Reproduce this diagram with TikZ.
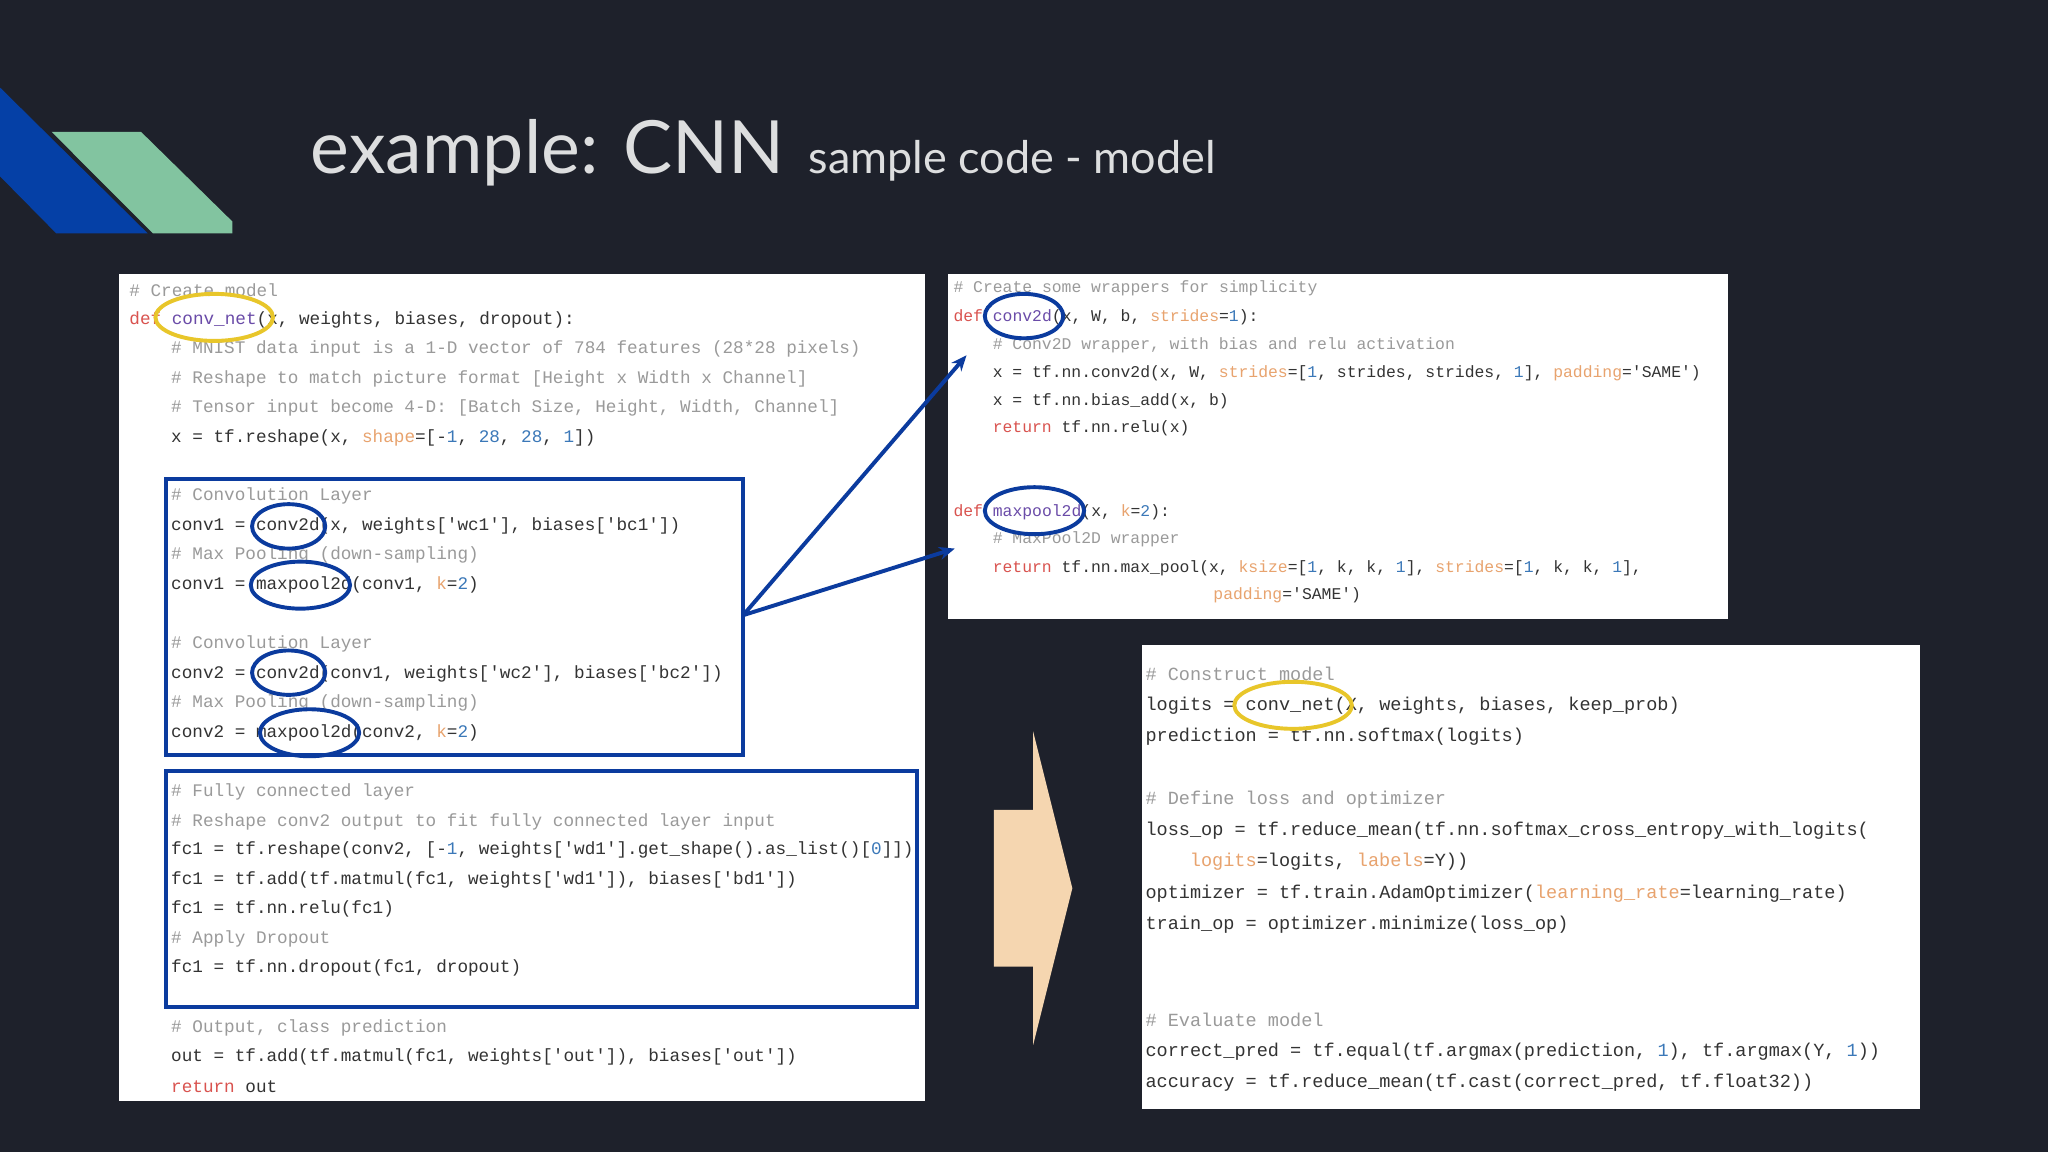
\documentclass[tikz,border=0pt]{standalone}
\usepackage{fontspec}
\usetikzlibrary{arrows.meta}
\setmainfont{Lato}
\newfontfamily\codefont{Liberation Mono}
\newfontfamily\titlefont{Lato}
\definecolor{bg}{HTML}{1E212B}
\definecolor{cmt}{HTML}{9A9A9A}
\definecolor{kwc}{HTML}{D9534F}
\definecolor{kac}{HTML}{E8A36E}
\definecolor{nmc}{HTML}{3B78B8}
\definecolor{fnc}{HTML}{6A4BA8}
\definecolor{txt}{HTML}{333333}
\definecolor{boxblue}{HTML}{0B3B9E}
\definecolor{deco1}{HTML}{0540A6}
\definecolor{deco2}{HTML}{82C4A0}
\definecolor{ylw}{HTML}{E8C62A}
\definecolor{peach}{HTML}{F5D6B0}
\newcommand{\cm}[1]{\textcolor{cmt}{#1}}
\newcommand{\kw}[1]{\textcolor{kwc}{#1}}
\newcommand{\ka}[1]{\textcolor{kac}{#1}}
\newcommand{\nm}[1]{\textcolor{nmc}{#1}}
\newcommand{\fnm}[1]{\textcolor{fnc}{#1}}
\begin{document}
\begin{tikzpicture}[x=1mm,y=-1mm,
  code/.style={anchor=west,inner sep=0pt,text=txt,font=\codefont\fontsize{38.5}{40}\selectfont},
  coder/.style={code,font=\codefont\fontsize{35.7}{40}\selectfont},
  codeb/.style={code,font=\codefont\fontsize{40.4}{42}\selectfont},
  panel/.style={fill=white,draw=none},
  bbox/.style={draw=boxblue,line width=3mm},
  bell/.style={draw=boxblue,line width=3mm},
  yell/.style={draw=ylw,line width=3mm},
  arr/.style={draw=boxblue,line width=3mm,-{Stealth[length=12mm,width=10mm]}}]
\useasboundingbox (0,0) rectangle (1568,882);
\fill[bg] (0,0) rectangle (1568,882);
\fill[deco1] (0,67) -- (113,178.6) -- (43,178.6) -- (0,135) -- cycle;
\fill[deco2] (39.6,101) -- (108,101) -- (178,169.7) -- (178,178.6) -- (117,178.6) -- cycle;
\node[anchor=base west,inner sep=0pt,text=white!85!bg,font=\titlefont\fontsize{160}{170}\selectfont] (title) at (238,133) {example: CNN};
\node[anchor=base west,inner sep=0pt,text=white!85!bg,font=\titlefont\fontsize{98}{100}\selectfont] (sub) at (619,133) {sample code - model};
% left panel
\fill[panel] (91,210) rectangle (708,843);
\node[code] (l1) at (99,222) {\cm{\# Create model}};
\node[code] (l2) at (99,245) {\kw{def} \fnm{conv\_net}(x, weights, biases, dropout):};
\node[code] (l3) at (131,267) {\cm{\# MNIST data input is a 1-D vector of 784 features (28*28 pixels)}};
\node[code] (l4) at (131,290) {\cm{\# Reshape to match picture format [Height x Width x Channel]}};
\node[code] (l5) at (131,312) {\cm{\# Tensor input become 4-D: [Batch Size, Height, Width, Channel]}};
\node[code] (l6) at (131,335) {x = tf.reshape(x, \ka{shape}=[-\nm{1}, \nm{28}, \nm{28}, \nm{1}])};
\node[code] (l7) at (131,380) {\cm{\# Convolution Layer}};
\node[code] (l8) at (131,403) {conv1 = conv2d(x, weights['wc1'], biases['bc1'])};
\node[code] (l9) at (131,425) {\cm{\# Max Pooling (down-sampling)}};
\node[code] (l10) at (131,448) {conv1 = maxpool2d(conv1, \ka{k}=\nm{2})};
\node[code] (l11) at (131,493) {\cm{\# Convolution Layer}};
\node[code] (l12) at (131,516) {conv2 = conv2d(conv1, weights['wc2'], biases['bc2'])};
\node[code] (l13) at (131,538) {\cm{\# Max Pooling (down-sampling)}};
\node[code] (l14) at (131,561) {conv2 = maxpool2d(conv2, \ka{k}=\nm{2})};
\node[code] (l15) at (131,606) {\cm{\# Fully connected layer}};
\node[code] (l16) at (131,629) {\cm{\# Reshape conv2 output to fit fully connected layer input}};
\node[code] (l17) at (131,651) {fc1 = tf.reshape(conv2, [-\nm{1}, weights['wd1'].get\_shape().as\_list()[\nm{0}]])};
\node[code] (l18) at (131,674) {fc1 = tf.add(tf.matmul(fc1, weights['wd1']), biases['bd1'])};
\node[code] (l19) at (131,696) {fc1 = tf.nn.relu(fc1)};
\node[code] (l20) at (131,719) {\cm{\# Apply Dropout}};
\node[code] (l21) at (131,741) {fc1 = tf.nn.dropout(fc1, dropout)};
\node[code] (l22) at (131,787) {\cm{\# Output, class prediction}};
\node[code] (l23) at (131,809) {out = tf.add(tf.matmul(fc1, weights['out']), biases['out'])};
\node[code] (l24) at (131,832) {\kw{return} out};
\draw[bbox] (127,367) rectangle (569,578);
\draw[bbox] (127,590) rectangle (702,771);
\coordinate (src) at (569,471);
\draw[yell] (164,243) ellipse [x radius=45,y radius=18];
\draw[bell] (221,403) ellipse [x radius=28,y radius=17];
\draw[bell] (230,448) ellipse [x radius=38,y radius=18];
\draw[bell] (221,515) ellipse [x radius=28,y radius=17];
\draw[bell] (237,561) ellipse [x radius=38,y radius=18];
% right top panel
\fill[panel] (726,210) rectangle (1323,474);
\node[coder] (r1) at (730,221) {\cm{\# Create some wrappers for simplicity}};
\node[coder] (r2) at (730,243) {\kw{def} \fnm{conv2d}(x, W, b, \ka{strides}=\nm{1}):};
\node[coder] (r3) at (760,264) {\cm{\# Conv2D wrapper, with bias and relu activation}};
\node[coder] (r4) at (760,286) {x = tf.nn.conv2d(x, W, \ka{strides}=[\nm{1}, strides, strides, \nm{1}], \ka{padding}='SAME')};
\node[coder] (r5) at (760,307) {x = tf.nn.bias\_add(x, b)};
\node[coder] (r6) at (760,328) {\kw{return} tf.nn.relu(x)};
\node[coder] (r7) at (730,392) {\kw{def} \fnm{maxpool2d}(x, \ka{k}=\nm{2}):};
\node[coder] (r8) at (760,413) {\cm{\# MaxPool2D wrapper}};
\node[coder] (r9) at (760,435) {\kw{return} tf.nn.max\_pool(x, \ka{ksize}=[\nm{1}, k, k, \nm{1}], \ka{strides}=[\nm{1}, k, k, \nm{1}],};
\node[coder] (r10) at (929,456) {\ka{padding}='SAME')};
\draw[bell] (784,242) ellipse [x radius=30,y radius=17];
\draw[bell] (792,391) ellipse [x radius=38,y radius=18];
\coordinate (t1) at (740,272);
\coordinate (t2) at (731,420);
\draw[arr] (src) -- (t1);
\draw[arr] (src) -- (t2);
% big arrow
\fill[peach] (761,620) -- (791,620) -- (791,560) -- (821,680) -- (791,800) -- (791,740) -- (761,740) -- cycle;
% bottom right panel
\fill[panel] (874,494) rectangle (1470,849);
\node[codeb] (b1) at (877,516) {\cm{\# Construct model}};
\node[codeb] (b2) at (877,540) {logits = conv\_net(X, weights, biases, keep\_prob)};
\node[codeb] (b3) at (877,564) {prediction = tf.nn.softmax(logits)};
\node[codeb] (b4) at (877,612) {\cm{\# Define loss and optimizer}};
\node[codeb] (b5) at (877,636) {loss\_op = tf.reduce\_mean(tf.nn.softmax\_cross\_entropy\_with\_logits(};
\node[codeb] (b6) at (911,660) {\ka{logits}=logits, \ka{labels}=Y))};
\node[codeb] (b7) at (877,684) {optimizer = tf.train.AdamOptimizer(\ka{learning\_rate}=learning\_rate)};
\node[codeb] (b8) at (877,708) {train\_op = optimizer.minimize(loss\_op)};
\node[codeb] (b9) at (877,781) {\cm{\# Evaluate model}};
\node[codeb] (b10) at (877,805) {correct\_pred = tf.equal(tf.argmax(prediction, \nm{1}), tf.argmax(Y, \nm{1}))};
\node[codeb] (b11) at (877,829) {accuracy = tf.reduce\_mean(tf.cast(correct\_pred, tf.float32))};
\draw[yell] (990,540) ellipse [x radius=45,y radius=18];
\end{tikzpicture}
\end{document}
